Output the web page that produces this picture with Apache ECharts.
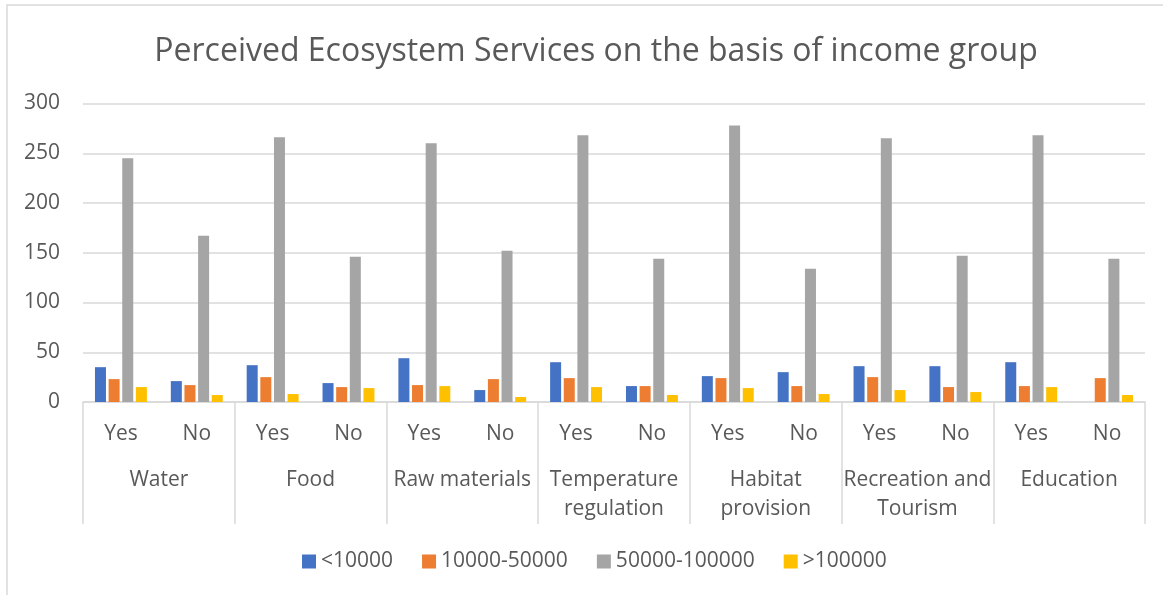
<!DOCTYPE html>
<html>
<head>
<meta charset="utf-8">
<script src="https://cdn.jsdelivr.net/npm/echarts@6/dist/echarts.min.js"></script>
<style>
  html, body { margin: 0; padding: 0; background: #fff; }
  #chart { width: 1163px; height: 595px; }
</style>
</head>
<body>
<div id="chart"></div>
<script>
// answer per service
var answers = ["Yes", "No", "Yes", "No", "Yes", "No", "Yes", "No", "Yes", "No", "Yes", "No", "Yes", "No"];
// ecosystem services (outer axis level)
var services = ["Water", "Food", "Raw materials", "Temperature\nregulation", "Habitat\nprovision", "Recreation and\nTourism", "Education"];
var yTicks = [0, 50, 100, 150, 200, 250, 300];

// income groups
var below10k = [35, 21, 37, 19, 44, 12, 40, 16, 26, 30, 36, 36, 40, 0];
var from10kTo50k = [23, 17, 25, 15, 17, 23, 24, 16, 24, 16, 25, 15, 16, 24];
var from50kTo100k = [245, 167, 266, 146, 260, 152, 268, 144, 278, 134, 265, 147, 268, 144];
var above100k = [15, 7, 8, 14, 16, 5, 15, 7, 14, 8, 12, 10, 15, 7];

var textColor = "#595959";
var lineColor = "#d9d9d9";
var font = "'Open Sans', 'Noto Sans', sans-serif";

function bar(name, data, color) {
  return {
    name: name,
    type: "bar",
    data: data,
    barWidth: 11,
    barGap: "24%",
    itemStyle: { color: color }
  };
}

var myChart = echarts.init(document.getElementById("chart"));
myChart.setOption({
  animation: false,
  textStyle: { fontFamily: font },
  title: {
    text: "Perceived Ecosystem Services on the basis of income group",
    left: 591,
    top: 31,
    textAlign: "center",
    textStyle: { color: textColor, fontSize: 32, fontWeight: "normal", fontFamily: font }
  },
  graphic: [
    {
      type: "rect",
      shape: { x: 7, y: 5, width: 1200, height: 700 },
      style: { fill: "none", stroke: lineColor, lineWidth: 1.5 },
      silent: true
    }
  ],
  legend: {
    left: 297,
    top: 546,
    itemWidth: 14,
    itemHeight: 14,
    itemGap: 29,
    icon: "rect",
    textStyle: { color: textColor, fontSize: 21, fontFamily: font }
  },
  grid: { left: 83, right: 18, top: 103.5, bottom: 193, containLabel: false },
  xAxis: [
    {
      type: "category",
      data: answers,
      axisLine: { lineStyle: { color: lineColor, width: 1.5 } },
      axisTick: { show: false },
      axisLabel: {
        interval: 0,
        margin: 20,
        lineHeight: 24,
        color: textColor,
        fontSize: 21,
        fontFamily: font
      }
    },
    {
      type: "category",
      data: services,
      position: "bottom",
      axisLine: { show: false },
      axisTick: { show: true, length: 122, lineStyle: { color: lineColor, width: 1.5 } },
      axisLabel: {
        interval: 0,
        margin: 64,
        lineHeight: 29,
        verticalAlign: "top",
        color: textColor,
        fontSize: 21,
        fontFamily: font
      }
    }
  ],
  yAxis: {
    type: "value",
    min: yTicks[0],
    max: yTicks[yTicks.length - 1],
    interval: 50,
    axisLine: { show: false },
    axisTick: { show: false },
    axisLabel: { margin: 23, color: textColor, fontSize: 21, fontFamily: font },
    splitLine: { lineStyle: { color: lineColor, width: 1.5 } }
  },
  series: [
    bar("<10000", below10k, "#4472c4"),
    bar("10000-50000", from10kTo50k, "#ed7d31"),
    bar("50000-100000", from50kTo100k, "#a5a5a5"),
    bar(">100000", above100k, "#ffc000")
  ]
});
</script>
</body>
</html>
